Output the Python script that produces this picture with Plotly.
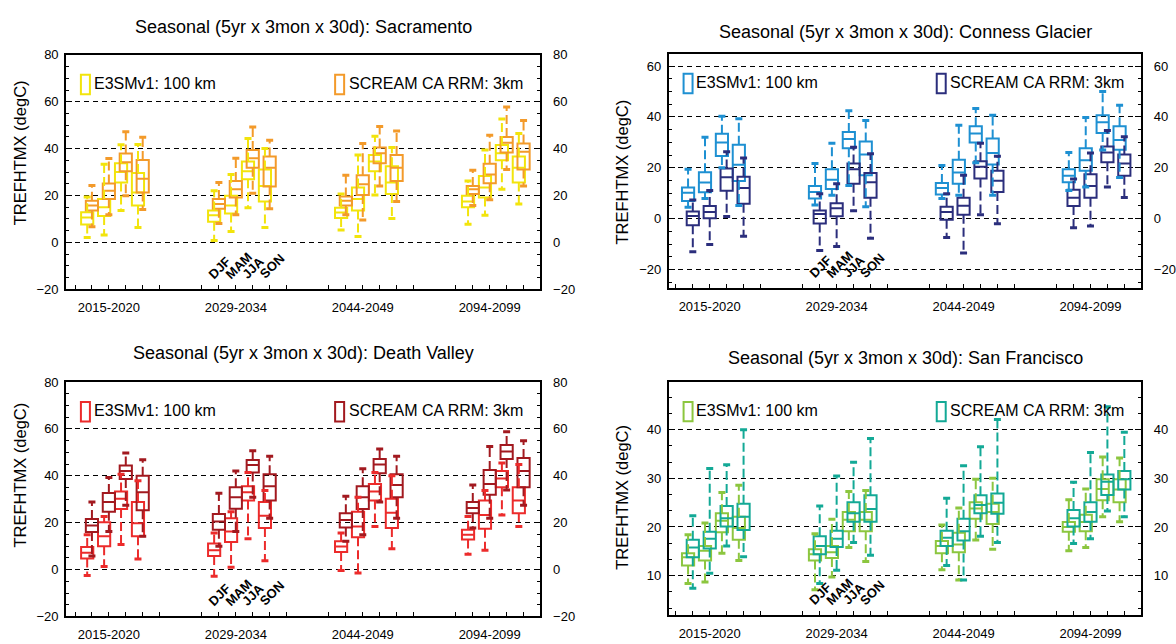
import plotly.graph_objects as go

# ---------------------------------------------------------------------------
# Data: daily max 2-m temperature (degC) box statistics.
# Order inside every list: period-major, season-minor
#   2015-2020 DJF, MAM, JJA, SON | 2029-2034 ... | 2044-2049 ... | 2094-2099 ...
# ---------------------------------------------------------------------------
periods = ["2015-2020", "2029-2034", "2044-2049", "2094-2099"]
seasons = ["DJF", "MAM", "JJA", "SON"]
model_names = ["E3SMv1: 100 km", "SCREAM CA RRM: 3km"]

# Sacramento
sac_e3sm_lo = [2.1, 3.2, 13.6, 6.3, 0.8, 4.6, 14.8, 6.3, 5.3, 2.5, 20.2, 10.2, 7.7, 11.6, 22.7, 16.4]
sac_e3sm_q1 = [7.6, 11.3, 25.5, 15.7, 8.8, 12.3, 26.9, 17.4, 10.4, 13.6, 30.4, 20.6, 15.0, 19.2, 35.0, 25.5]
sac_e3sm_med = [10.6, 15.0, 30.0, 21.3, 11.6, 15.7, 30.4, 24.1, 12.7, 18.5, 34.5, 25.5, 17.4, 23.4, 38.0, 31.8]
sac_e3sm_q3 = [12.9, 18.5, 33.8, 29.6, 13.6, 19.9, 34.5, 31.1, 14.8, 23.4, 37.3, 32.5, 19.9, 28.3, 41.5, 36.6]
sac_e3sm_hi = [19.4, 33.3, 41.6, 41.8, 22.0, 29.0, 44.3, 40.1, 20.6, 37.3, 45.3, 40.5, 26.2, 39.4, 52.6, 46.4]

sac_scream_lo = [6.7, 11.8, 19.9, 14.0, 8.1, 11.8, 21.0, 14.3, 11.8, 9.5, 24.1, 17.4, 15.7, 18.2, 31.1, 24.1]
sac_scream_q1 = [13.6, 18.5, 30.3, 21.3, 14.3, 19.2, 31.8, 23.8, 15.7, 20.2, 33.8, 26.2, 20.6, 25.2, 38.3, 31.1]
sac_scream_med = [15.7, 22.0, 34.2, 27.1, 16.4, 22.7, 35.9, 31.8, 17.8, 24.8, 38.0, 31.8, 22.7, 29.0, 42.5, 38.7]
sac_scream_q3 = [17.8, 25.1, 37.9, 35.1, 18.5, 26.2, 39.4, 36.6, 19.6, 28.6, 40.5, 37.3, 24.1, 33.6, 45.0, 42.2]
sac_scream_hi = [24.3, 35.8, 47.2, 44.9, 25.5, 35.9, 49.2, 43.6, 28.6, 42.2, 49.4, 47.5, 30.8, 45.7, 57.8, 52.0]

# Conness Glacier
con_e3sm_lo = [4.5, 7.9, 20.0, 5.2, 5.4, 9.2, 13.0, 4.7, 7.9, 9.2, 22.0, 9.2, 11.1, 12.4, 27.0, 16.2]
con_e3sm_q1 = [6.9, 10.4, 24.6, 14.8, 7.9, 11.7, 27.7, 17.1, 9.5, 13.7, 29.9, 21.3, 14.3, 18.8, 33.7, 27.1]
con_e3sm_med = [10.2, 14.2, 29.9, 21.2, 10.5, 15.3, 31.3, 25.2, 12.0, 18.1, 33.5, 25.8, 16.9, 23.0, 37.9, 30.9]
con_e3sm_q3 = [12.2, 18.2, 33.4, 29.1, 12.8, 19.4, 34.1, 30.3, 14.0, 23.2, 36.3, 31.5, 19.4, 27.7, 40.7, 36.3]
con_e3sm_hi = [19.4, 32.0, 40.3, 39.3, 21.7, 29.6, 42.4, 38.6, 20.9, 36.7, 43.3, 40.7, 26.0, 39.8, 50.0, 44.6]

con_scream_lo = [-13.0, -10.2, 0.8, -6.9, -12.5, -11.0, 3.1, -7.7, -7.4, -13.5, 1.5, -2.0, -3.6, -2.9, 12.4, 8.3]
con_scream_q1 = [-2.6, 0.1, 11.0, 5.9, -1.9, 0.9, 13.7, 8.2, -0.4, 1.5, 15.8, 10.5, 5.0, 8.2, 22.2, 16.9]
con_scream_med = [1.0, 2.6, 16.3, 12.0, 1.8, 4.1, 19.4, 14.3, 2.6, 5.1, 20.4, 14.9, 8.2, 12.8, 26.0, 21.7]
con_scream_q3 = [2.8, 5.0, 19.7, 16.5, 3.2, 6.0, 21.7, 17.9, 4.7, 8.2, 22.6, 18.8, 11.4, 17.5, 28.4, 25.2]
con_scream_hi = [7.3, 11.1, 26.3, 23.8, 9.8, 13.7, 28.1, 25.5, 9.8, 17.1, 29.6, 24.5, 15.6, 25.8, 34.7, 32.2]

# Death Valley
dv_e3sm_lo = [-2.5, 1.3, 10.7, 4.5, -2.8, 1.0, 13.2, 3.8, -0.4, -1.5, 18.4, 8.9, 6.5, 8.2, 23.3, 18.4]
dv_e3sm_q1 = [4.7, 10.0, 25.8, 14.2, 5.8, 11.8, 29.5, 17.7, 7.5, 13.8, 29.5, 17.7, 12.8, 17.4, 35.1, 24.0]
dv_e3sm_med = [7.2, 14.2, 30.2, 19.8, 8.2, 16.3, 33.0, 23.0, 9.9, 18.4, 33.3, 24.2, 14.9, 23.3, 38.9, 29.5]
dv_e3sm_q3 = [9.6, 20.2, 33.3, 28.8, 11.1, 21.9, 35.5, 28.8, 12.1, 24.7, 36.5, 30.2, 17.0, 29.5, 42.1, 35.1]
dv_e3sm_hi = [14.9, 22.6, 40.7, 37.9, 15.6, 24.7, 41.4, 33.7, 15.6, 30.9, 41.4, 40.0, 22.6, 33.7, 45.5, 44.8]

dv_scream_lo = [5.8, 16.3, 27.4, 14.2, 10.0, 16.3, 30.9, 21.9, 12.1, 14.9, 28.8, 21.9, 17.7, 21.9, 34.0, 27.4]
dv_scream_q1 = [16.0, 24.7, 38.6, 25.3, 17.0, 26.0, 41.4, 29.5, 18.0, 25.8, 41.1, 30.9, 24.0, 31.9, 47.2, 35.1]
dv_scream_med = [18.8, 28.8, 42.1, 33.0, 20.5, 30.9, 44.6, 35.5, 21.2, 30.9, 44.8, 36.1, 26.3, 36.5, 50.4, 42.1]
dv_scream_q3 = [21.6, 32.7, 44.4, 40.0, 23.7, 35.1, 46.7, 40.7, 24.0, 35.5, 47.2, 40.7, 28.8, 42.5, 53.2, 47.6]
dv_scream_hi = [28.8, 39.3, 49.7, 46.9, 32.6, 42.1, 50.7, 48.3, 31.3, 43.0, 51.4, 48.3, 36.1, 52.5, 58.8, 55.0]

# San Francisco
sf_e3sm_lo = [8.4, 8.7, 14.6, 13.1, 7.1, 9.7, 15.8, 12.9, 11.2, 9.1, 17.3, 15.4, 15.1, 15.8, 22.1, 21.1]
sf_e3sm_q1 = [12.1, 13.1, 18.9, 17.4, 13.1, 13.6, 19.1, 19.1, 14.6, 14.8, 21.7, 20.6, 19.0, 19.1, 25.5, 25.1]
sf_e3sm_med = [13.8, 15.1, 21.3, 19.8, 14.4, 14.8, 21.5, 21.5, 16.1, 16.4, 23.8, 23.1, 20.0, 21.0, 27.8, 27.7]
sf_e3sm_q3 = [14.6, 16.1, 22.8, 22.1, 15.4, 16.1, 23.1, 23.1, 17.1, 18.8, 25.1, 24.8, 21.0, 22.5, 29.8, 29.8]
sf_e3sm_hi = [18.4, 20.8, 27.1, 28.6, 18.6, 21.6, 27.3, 27.5, 20.4, 23.9, 29.8, 30.0, 25.6, 27.8, 34.4, 34.2]

sf_scream_lo = [7.4, 10.5, 16.1, 13.9, 8.4, 11.1, 16.8, 14.2, 12.1, 9.1, 18.1, 16.8, 16.6, 17.6, 23.3, 22.1]
sf_scream_q1 = [13.8, 15.6, 20.1, 19.4, 14.4, 15.9, 21.1, 21.1, 16.1, 17.2, 22.8, 22.7, 20.1, 21.1, 26.6, 27.7]
sf_scream_med = [15.8, 17.6, 21.8, 22.1, 16.1, 17.6, 22.8, 23.7, 17.8, 19.1, 24.5, 25.0, 21.8, 23.1, 29.3, 29.8]
sf_scream_q3 = [17.4, 19.0, 24.3, 24.8, 18.1, 19.2, 25.1, 26.5, 19.2, 21.7, 26.5, 26.9, 23.5, 25.1, 30.8, 31.5]
sf_scream_hi = [22.3, 32.0, 32.8, 40.0, 24.3, 30.5, 33.3, 38.2, 25.9, 32.6, 36.5, 42.1, 29.2, 35.3, 44.7, 39.5]

# ---------------------------------------------------------------------------
# Panel layout and styling
# ---------------------------------------------------------------------------
W, H = 1176, 644
FONT = "Liberation Sans"
GROUP_STEP = 7.5      # distance between period groups (x units, one unit per season)
E3SM_SHIFT = -0.28    # E3SM boxes sit slightly left of the SCREAM boxes
BOX_W = 0.72


def px_dom(a, b, total, flip=False):
    if flip:
        return [1 - b / total, 1 - a / total]
    return [a / total, b / total]


panels = [
    dict(name="Sacramento",
         stats=[(sac_e3sm_lo, sac_e3sm_q1, sac_e3sm_med, sac_e3sm_q3, sac_e3sm_hi),
                (sac_scream_lo, sac_scream_q1, sac_scream_med, sac_scream_q3, sac_scream_hi)],
         colors=["#f2e40c", "#f39a2a"],
         xpx=(67, 547), ypx=(49, 289), xrange=[-0.52, 27.5],
         yrange=[-20, 80], dtick=20, minor=5, title_y=20, ytitle_y=149),
    dict(name="Conness Glacier",
         stats=[(con_e3sm_lo, con_e3sm_q1, con_e3sm_med, con_e3sm_q3, con_e3sm_hi),
                (con_scream_lo, con_scream_q1, con_scream_med, con_scream_q3, con_scream_hi)],
         colors=["#1e90d2", "#2b2e7c"],
         xpx=(677, 1155), ypx=(48, 288), xrange=[-0.41, 27.5],
         yrange=[-27.4, 64.8], dtick=20, minor=5, title_y=26, ytitle_y=169),
    dict(name="Death Valley",
         stats=[(dv_e3sm_lo, dv_e3sm_q1, dv_e3sm_med, dv_e3sm_q3, dv_e3sm_hi),
                (dv_scream_lo, dv_scream_q1, dv_scream_med, dv_scream_q3, dv_scream_hi)],
         colors=["#ec2b2b", "#a2191f"],
         xpx=(67, 547), ypx=(384, 624), xrange=[-0.52, 27.5],
         yrange=[-20, 80], dtick=20, minor=5, title_y=354, ytitle_y=479),
    dict(name="San Francisco",
         stats=[(sf_e3sm_lo, sf_e3sm_q1, sf_e3sm_med, sf_e3sm_q3, sf_e3sm_hi),
                (sf_scream_lo, sf_scream_q1, sf_scream_med, sf_scream_q3, sf_scream_hi)],
         colors=["#8cc63f", "#13a996"],
         xpx=(677, 1155), ypx=(384, 623), xrange=[-0.41, 27.5],
         yrange=[1.8, 49.8], dtick=10, minor=10 / 3, title_y=359, ytitle_y=502),
]

tickvals = [g * GROUP_STEP + k for g in range(len(periods)) for k in range(6)]
ticktext = [periods[g] if k == 2 else "" for g in range(len(periods)) for k in range(6)]

fig = go.Figure()
layout = dict(
    width=W, height=H, margin=dict(l=0, r=0, t=0, b=0),
    paper_bgcolor="white", plot_bgcolor="white",
    font=dict(family=FONT, color="black", size=13),
    showlegend=False, boxmode="overlay",
    annotations=[], shapes=[],
)

for i, p in enumerate(panels):
    n = i + 1
    xa = "x" if n == 1 else f"x{n}"
    ya = "y" if n == 1 else f"y{n}"
    yr = f"y{n + 4}"
    xdom = px_dom(*p["xpx"], W)
    ydom = px_dom(*p["ypx"], H, flip=True)

    for m, (stats, col) in enumerate(zip(p["stats"], p["colors"])):
        lo, q1, med, q3, hi = stats
        shift = E3SM_SHIFT if m == 0 else 0.0
        xs = [g * GROUP_STEP + k + 1 + shift for g in range(len(periods)) for k in range(len(seasons))]

        # dashed whiskers from box edges to the extremes
        wx, wy = [], []
        for x, a, b, c, d in zip(xs, lo, q1, q3, hi):
            wx += [x, x, None, x, x, None]
            wy += [c, d, None, b, a, None]
        fig.add_trace(go.Scatter(
            x=wx, y=wy, mode="lines", xaxis=xa, yaxis=ya,
            line=dict(color=col, width=2, dash="9px,4px"),
            hoverinfo="skip", showlegend=False))
        # whisker end caps
        fig.add_trace(go.Scatter(
            x=xs + xs, y=list(lo) + list(hi), mode="markers", xaxis=xa, yaxis=ya,
            marker=dict(symbol="line-ew", size=5, line=dict(color=col, width=3)),
            hoverinfo="skip", showlegend=False))
        # boxes (quartiles + median)
        fig.add_trace(go.Box(
            x=xs, q1=q1, median=med, q3=q3, lowerfence=q1, upperfence=q3,
            width=BOX_W, whiskerwidth=0, boxpoints=False,
            line=dict(color=col, width=2), fillcolor="rgba(0,0,0,0)",
            name=model_names[m], xaxis=xa, yaxis=ya, showlegend=False))

    # empty trace so the right-hand label axis is drawn
    fig.add_trace(go.Scatter(x=[None], y=[None], xaxis=xa, yaxis=yr,
                             showlegend=False, hoverinfo="skip"))

    layout[f"xaxis{n}"] = dict(
        domain=xdom, anchor=ya, range=p["xrange"],
        tickmode="array", tickvals=tickvals, ticktext=ticktext,
        ticks="inside", ticklen=4, tickwidth=1, tickcolor="black",
        showline=True, linewidth=2, linecolor="black", mirror=True,
        showgrid=False, zeroline=False, ticklabelstandoff=5,
        tickfont=dict(size=13, color="black", family=FONT))
    layout[f"yaxis{n}"] = dict(
        domain=ydom, anchor=xa, range=p["yrange"], tick0=0, dtick=p["dtick"],
        ticks="inside", ticklen=6, tickwidth=1, tickcolor="black",
        showline=True, linewidth=2, linecolor="black", mirror="allticks",
        showgrid=True, gridcolor="black", gridwidth=1, griddash="5px,4px",
        zeroline=False, ticklabelstandoff=3,
        minor=dict(tick0=0, dtick=p["minor"], ticks="inside", ticklen=3,
                   tickwidth=1, tickcolor="black", showgrid=False),
        tickfont=dict(size=13, color="black", family=FONT))
    # right-hand labels: invisible outside ticks push the labels off the frame
    layout[f"yaxis{n + 4}"] = dict(
        overlaying=ya, side="right", anchor=xa, range=p["yrange"],
        tick0=0, dtick=p["dtick"], ticks="outside", ticklen=9,
        tickcolor="rgba(0,0,0,0)", showline=False, showgrid=False,
        zeroline=False,
        tickfont=dict(size=13, color="black", family=FONT))

    # panel title
    layout["annotations"].append(dict(
        text=f"Seasonal (5yr x 3mon x 30d): {p['name']}",
        x=(xdom[0] + xdom[1]) / 2, y=1 - p["title_y"] / H,
        xref="paper", yref="paper", xanchor="center", yanchor="middle",
        showarrow=False, font=dict(size=18, family=FONT, color="black")))
    # y-axis title
    layout["annotations"].append(dict(
        text="TREFHTMX (degC)", textangle=-90,
        x=(p["xpx"][0] - 47) / W, y=1 - p["ytitle_y"] / H,
        xref="paper", yref="paper", xanchor="center", yanchor="middle",
        showarrow=False, font=dict(size=16.5, family=FONT, color="black")))

    # legend entries drawn inside the plot frame
    for m, (rx0, rx1, tx) in enumerate([(0.031, 0.050, 0.054), (0.567, 0.586, 0.591)]):
        layout["shapes"].append(dict(
            type="rect", xref=f"{xa} domain", yref=f"{ya} domain",
            x0=rx0, x1=rx1, y0=0.832, y1=0.915,
            line=dict(color=p["colors"][m], width=2), fillcolor="rgba(0,0,0,0)"))
        layout["annotations"].append(dict(
            text=model_names[m], x=tx, y=0.878,
            xref=f"{xa} domain", yref=f"{ya} domain",
            xanchor="left", yanchor="middle", showarrow=False,
            font=dict(size=16, family=FONT, color="black")))

    # season labels under the second period group
    for k, s in enumerate(seasons):
        layout["annotations"].append(dict(
            text=f"<b>{s}</b>", textangle=-45,
            x=GROUP_STEP + k + 1 - 0.95, y=0,
            xref=xa, yref=f"{ya} domain",
            xanchor="left", yanchor="bottom", yshift=5,
            showarrow=False, font=dict(size=13, family=FONT, color="black")))

fig.update_layout(**layout)
fig.write_html("out.html")
